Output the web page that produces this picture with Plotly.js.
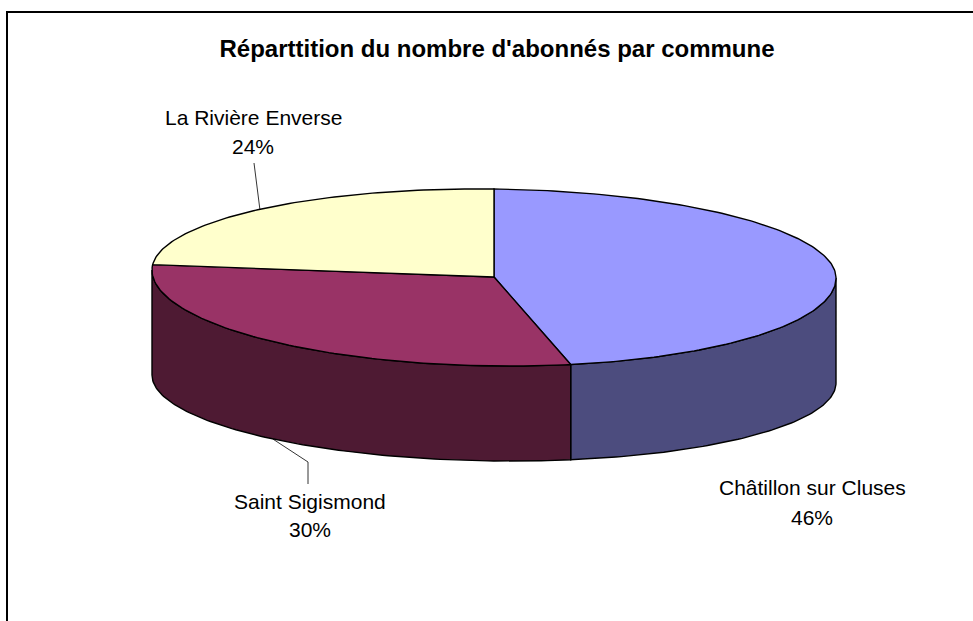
<!DOCTYPE html>
<html>
<head>
<meta charset="utf-8">
<script src="https://cdn.plot.ly/plotly-3.0.1.min.js"></script>
<style>html,body{margin:0;padding:0;background:#fff;}#chart{width:973px;height:621px;}</style>
</head>
<body>
<div id="chart"></div>
<script>
// ---- data ----
const categories = ['Châtillon sur Cluses', 'Saint Sigismond', 'La Rivière Enverse'];
const values = [46.4, 29.6, 24.0];
const topColors = ['#9999FF', '#993366', '#FFFFCC'];
const sideColors = ['#4C4C7E', '#4E1A33', '#80805F'];
const chartTitle = "Réparttition du nombre d'abonnés par commune";

// ---- geometry (layout of the 3D pie) ----
const G = {cx: 494, cy: 274, rx: 342, ryBack: 85, ryFront: 92, cyB: 379, ryBFront: 82, skew: 4, centerY: 277};
const FONT = 'Liberation Sans, Arial, sans-serif';
const rad = d => d * Math.PI / 180;
function topPt(deg) {
  const s = Math.sin(rad(deg)), c = Math.cos(rad(deg));
  const ry = c > 0 ? G.ryBack : G.ryFront;
  return [G.cx + G.rx * s, G.cy - ry * c + G.skew * s];
}
function botPt(deg) {
  const s = Math.sin(rad(deg)), c = Math.cos(rad(deg));
  const ry = c > 0 ? G.ryBack * 0.9 : G.ryBFront;
  return [G.cx + G.rx * s, G.cyB - ry * c + G.skew * s];
}
function arc(fn, a0, a1) {
  const pts = [];
  const n = Math.max(2, Math.ceil(Math.abs(a1 - a0)));
  for (let i = 0; i <= n; i++) pts.push(fn(a0 + (a1 - a0) * i / n));
  return pts;
}

const total = values.reduce((a, b) => a + b, 0);
let acc = 0;
const slices = values.map((v, i) => {
  const a0 = acc / total * 360; acc += v;
  const a1 = acc / total * 360;
  return {i, a0, a1, mid: (a0 + a1) / 2};
});

const traces = [];
// side faces (front half only: 90..270 deg)
slices.forEach(s => {
  const b0 = Math.max(s.a0, 90), b1 = Math.min(s.a1, 270);
  if (b1 <= b0) return;
  const top = arc(topPt, b0, b1), bot = arc(botPt, b1, b0);
  const pts = top.concat(bot); pts.push(top[0]);
  traces.push({type: 'scatter', mode: 'lines', x: pts.map(p => p[0]), y: pts.map(p => p[1]),
    fill: 'toself', fillcolor: sideColors[s.i], line: {color: '#000', width: 1.4},
    hoverinfo: 'skip', showlegend: false});
});
// top faces
slices.forEach(s => {
  const pts = [[G.cx, G.centerY]].concat(arc(topPt, s.a0, s.a1));
  pts.push([G.cx, G.centerY]);
  traces.push({type: 'scatter', mode: 'lines', x: pts.map(p => p[0]), y: pts.map(p => p[1]),
    fill: 'toself', fillcolor: topColors[s.i], line: {color: '#000', width: 1.4},
    name: categories[s.i], hoverinfo: 'name', showlegend: false});
});

// labels and leader lines
const labelPos = [
  {x: 812, y1: 487, y2: 517, leader: null},
  {x: 310, y1: 501, y2: 529, leader: {face: 'bot', via: [[308, 462], [308, 484]]}},
  {x: 253, y1: 117, y2: 146, leader: {face: 'top', via: [[254, 163]]}}
];
const annotations = [];
slices.forEach(s => {
  const L = labelPos[s.i];
  const pct = Math.round(values[s.i] / total * 100) + '%';
  annotations.push({xref: 'x', yref: 'y', x: L.x, y: L.y1, text: categories[s.i], showarrow: false,
    font: {family: FONT, size: 21, color: '#000'}, xanchor: 'center', yanchor: 'middle'});
  annotations.push({xref: 'x', yref: 'y', x: L.x, y: L.y2, text: pct, showarrow: false,
    font: {family: FONT, size: 21, color: '#000'}, xanchor: 'center', yanchor: 'middle'});
  if (L.leader) {
    const anchor = L.leader.face === 'top' ? topPt(s.mid) : botPt(s.mid);
    const pts = [anchor].concat(L.leader.via);
    traces.push({type: 'scatter', mode: 'lines', x: pts.map(p => p[0]), y: pts.map(p => p[1]),
      line: {color: '#000', width: 0.8}, hoverinfo: 'skip', showlegend: false});
  }
});

const layout = {
  width: 973, height: 621,
  margin: {l: 0, r: 0, t: 0, b: 0},
  paper_bgcolor: '#fff', plot_bgcolor: '#fff',
  title: {text: '<b>' + chartTitle + '</b>', x: 497 / 973, xanchor: 'center', y: 1 - 49 / 621, yanchor: 'middle',
    font: {family: FONT, size: 24, color: '#000'}},
  xaxis: {range: [0, 973], visible: false, fixedrange: true},
  yaxis: {range: [621, 0], visible: false, fixedrange: true},
  shapes: [{type: 'rect', xref: 'x', yref: 'y', x0: 7, x1: 976, y0: 12, y1: 630,
    line: {color: '#000', width: 2}, layer: 'below'}],
  annotations: annotations,
  showlegend: false
};
Plotly.newPlot('chart', traces, layout, {displayModeBar: false, staticPlot: true});
</script>
</body>
</html>
